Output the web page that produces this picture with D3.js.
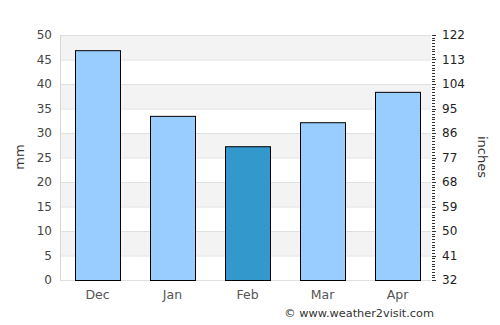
<!DOCTYPE html>
<html lang="en">
<head>
<meta charset="UTF-8">
<title>Rainfall</title>
<style>
    body { margin: 0; background: #fff; }
    svg text { font-family: "DejaVu Sans", sans-serif; }
</style>
</head>
<body>
<div id="chart"></div>
<script src="https://d3js.org/d3.v7.min.js"></script>
<script>
// data
const months = ['Dec', 'Jan', 'Feb', 'Mar', 'Apr'];
const rainMm = [46.9, 33.5, 27.3, 32.2, 38.4];
const highlight = ['Feb'];
const mmTicks = [0, 5, 10, 15, 20, 25, 30, 35, 40, 45, 50];
const inchTicks = [32, 41, 50, 59, 68, 77, 86, 95, 104, 113, 122];

const width = 500, height = 325;
const plotLeft = 60, bandRight = 435, plotTop = 35, plotBottom = 280;
const plotRight = 431;

const svg = d3.select('#chart').append('svg')
    .attr('width', width)
    .attr('height', height);

const x = d3.scaleBand().domain(months).range([plotLeft, bandRight]).paddingInner(0.4).paddingOuter(0.2);
const y = d3.scaleLinear().domain([0, 50]).range([plotBottom, plotTop]);
const y2 = d3.scaleLinear().domain([32, 122]).range([plotBottom, plotTop]);

// alternating bands
const bands = mmTicks.slice(0, -1).filter((d, i) => i % 2 === 1);
svg.append('g').selectAll('rect')
    .data(bands)
    .enter().append('rect')
    .attr('x', plotLeft)
    .attr('width', plotRight - plotLeft)
    .attr('y', d => y(d + 5))
    .attr('height', d => y(d) - y(d + 5))
    .attr('fill', '#f3f3f3');

// grid lines
svg.append('g').selectAll('line')
    .data(mmTicks)
    .enter().append('line')
    .attr('x1', plotLeft).attr('x2', plotRight)
    .attr('y1', d => y(d) + 0.5).attr('y2', d => y(d) + 0.5)
    .attr('stroke', '#e0e0e0');

// left border
svg.append('line')
    .attr('x1', plotLeft + 0.5).attr('x2', plotLeft + 0.5)
    .attr('y1', plotTop).attr('y2', plotBottom + 1)
    .attr('stroke', '#d8d8d8');

// bars
svg.append('g').selectAll('rect')
    .data(months)
    .enter().append('rect')
    .attr('x', d => x(d) + 0.5)
    .attr('width', x.bandwidth())
    .attr('y', (d, i) => y(rainMm[i]) + 0.5)
    .attr('height', (d, i) => y(0) - y(rainMm[i]))
    .attr('fill', d => highlight.includes(d) ? '#3399cc' : '#99ccff')
    .attr('stroke', '#000')
    .attr('stroke-width', 1);

// left axis
const yAxis = svg.append('g')
    .attr('transform', `translate(${plotLeft},0)`)
    .call(d3.axisLeft(y).tickValues(mmTicks).tickSize(0).tickPadding(8));
yAxis.select('.domain').remove();
yAxis.selectAll('text').attr('font-size', 12).attr('fill', '#444').attr('font-family', '"DejaVu Sans", sans-serif');

// right axis with minor ticks
const minor = d3.range(32, 123, 1);
svg.append('g').selectAll('line')
    .data(minor)
    .enter().append('line')
    .attr('x1', plotRight + 1)
    .attr('x2', d => plotRight + (inchTicks.includes(d) ? 5 : 4))
    .attr('y1', d => Math.round(y2(d)) + 0.5)
    .attr('y2', d => Math.round(y2(d)) + 0.5)
    .attr('stroke', '#333')
    .attr('stroke-width', 1);

const y2Axis = svg.append('g')
    .attr('transform', `translate(${plotRight + 11},0)`)
    .call(d3.axisRight(y2).tickValues(inchTicks).tickSize(0).tickPadding(0));
y2Axis.select('.domain').remove();
y2Axis.selectAll('text').attr('font-size', 12).attr('fill', '#222').attr('font-family', '"DejaVu Sans", sans-serif');

// x axis
const xAxis = svg.append('g')
    .attr('transform', `translate(0,${plotBottom})`)
    .call(d3.axisBottom(x).tickSize(0).tickPadding(10));
xAxis.select('.domain').remove();
xAxis.selectAll('text').attr('font-size', 12.5).attr('fill', '#555').attr('font-family', '"DejaVu Sans", sans-serif');

// axis titles
svg.append('text')
    .attr('transform', 'translate(24,157) rotate(-90)')
    .attr('text-anchor', 'middle')
    .attr('font-size', 13)
    .attr('fill', '#333')
    .text('mm');

svg.append('text')
    .attr('transform', 'translate(478,157) rotate(90)')
    .attr('text-anchor', 'middle')
    .attr('font-size', 13)
    .attr('fill', '#333')
    .text('inches');

svg.append('text')
    .attr('x', 434)
    .attr('y', 317)
    .attr('text-anchor', 'end')
    .attr('font-size', 11.3)
    .attr('fill', '#333')
    .text('© www.weather2visit.com');
</script>
</body>
</html>
